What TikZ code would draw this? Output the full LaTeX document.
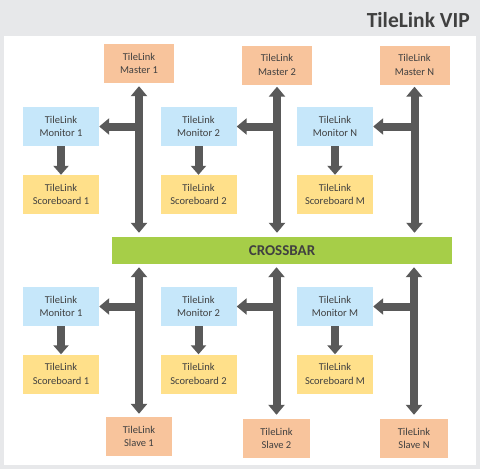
\documentclass[tikz,border=0pt]{standalone}
\usepackage{fontspec}
\setmainfont{Carlito}
\usetikzlibrary{arrows.meta}
\definecolor{bggray}{HTML}{E7E8EA}
\definecolor{mastercol}{HTML}{F8C49C}
\definecolor{moncol}{HTML}{C6E7FA}
\definecolor{sbcol}{HTML}{FFE08A}
\definecolor{cbcol}{HTML}{A6CE48}
\definecolor{arrowgray}{HTML}{595959}
\definecolor{txtgray}{HTML}{404040}
\begin{document}
\begin{tikzpicture}[x=1pt,y=-1pt,
  box/.style={inner sep=0pt, align=center, text=txtgray, font=\fontsize{10.5}{13.5}\selectfont},
  masterbox/.style={box, fill=mastercol, minimum width=70pt, minimum height=39pt},
  monbox/.style={box, fill=moncol, minimum width=76pt, minimum height=39pt},
  sbbox/.style={box, fill=sbcol, minimum width=76pt, minimum height=39pt},
  bus/.style={draw=arrowgray, line width=8pt, {Triangle[width=16pt,length=10pt]}-{Triangle[width=16pt,length=10pt]}},
  tap/.style={draw=arrowgray, line width=8pt, -{Triangle[width=16pt,length=10pt]}},
  feed/.style={draw=arrowgray, line width=8pt, -{Triangle[width=15pt,length=9pt]}}
]
\path[fill=bggray] (0,0) rectangle (480,469);
\path[fill=white] (4,36) rectangle (476,465);
\node[anchor=base east, inner sep=0pt, text=txtgray, font=\fontsize{21.5}{24}\selectfont\bfseries] (title) at (470,27) {TileLink VIP};

% masters
\node[masterbox] (m1) at (139,63.5) {TileLink\\Master 1};
\node[masterbox] (m2) at (277,65) {TileLink\\Master 2};
\node[masterbox] (mN) at (414.5,65) {TileLink\\Master N};

% top monitors and scoreboards
\node[monbox] (tmon1) at (61,126.5) {TileLink\\Monitor 1};
\node[monbox] (tmon2) at (198.5,126.5) {TileLink\\Monitor 2};
\node[monbox] (tmonN) at (335,126.5) {TileLink\\Monitor N};
\node[sbbox] (tsb1) at (61,194.5) {TileLink\\Scoreboard 1};
\node[sbbox] (tsb2) at (198.5,194.5) {TileLink\\Scoreboard 2};
\node[sbbox] (tsbM) at (335,194.5) {TileLink\\Scoreboard M};

% crossbar
\node[inner sep=0pt, fill=cbcol, minimum width=340pt, minimum height=27pt, text=txtgray, font=\fontsize{15}{18}\selectfont\bfseries] (cb) at (282,250.5) {CROSSBAR};

% bottom monitors and scoreboards
\node[monbox] (bmon1) at (61,306.5) {TileLink\\Monitor 1};
\node[monbox] (bmon2) at (198.5,306.5) {TileLink\\Monitor 2};
\node[monbox] (bmonM) at (335,306.5) {TileLink\\Monitor M};
\node[sbbox] (bsb1) at (61,374) {TileLink\\Scoreboard 1};
\node[sbbox] (bsb2) at (198.5,374) {TileLink\\Scoreboard 2};
\node[sbbox] (bsbM) at (335,374) {TileLink\\Scoreboard M};

% slaves
\node[masterbox, minimum width=66pt] (s1) at (139,436.5) {TileLink\\Slave 1};
\node[masterbox, minimum width=67pt] (s2) at (276.5,438.5) {TileLink\\Slave 2};
\node[masterbox, minimum width=68pt] (sN) at (414,438.5) {TileLink\\Slave N};

% top buses
\draw[bus, shorten <=3pt, shorten >=4pt] (m1.south) -- (m1.south |- cb.north);
\draw[bus, shorten <=2pt, shorten >=4pt] (m2.south) -- (m2.south |- cb.north);
\draw[bus, shorten <=2pt, shorten >=4pt] (mN.south) -- (mN.south |- cb.north);
% bottom buses
\draw[bus, shorten <=3pt, shorten >=3pt] (s1.north |- cb.south) -- (s1.north);
\draw[bus, shorten <=3pt, shorten >=4pt] (s2.north |- cb.south) -- (s2.north);
\draw[bus, shorten <=3pt, shorten >=4pt] (sN.north |- cb.south) -- (sN.north);

% taps to monitors
\draw[tap] (tmon1.east -| m1.south) -- (tmon1.east);
\draw[tap] (tmon2.east -| m2.south) -- (tmon2.east);
\draw[tap] (tmonN.east -| mN.south) -- (tmonN.east);
\draw[tap] (bmon1.east -| s1.north) -- (bmon1.east);
\draw[tap] (bmon2.east -| s2.north) -- (bmon2.east);
\draw[tap] (bmonM.east -| sN.north) -- (bmonM.east);

% monitor to scoreboard
\draw[feed] (tmon1) -- (tsb1);
\draw[feed] (tmon2) -- (tsb2);
\draw[feed] (tmonN) -- (tsbM);
\draw[feed] (bmon1) -- (bsb1);
\draw[feed] (bmon2) -- (bsb2);
\draw[feed] (bmonM) -- (bsbM);
\end{tikzpicture}
\end{document}
